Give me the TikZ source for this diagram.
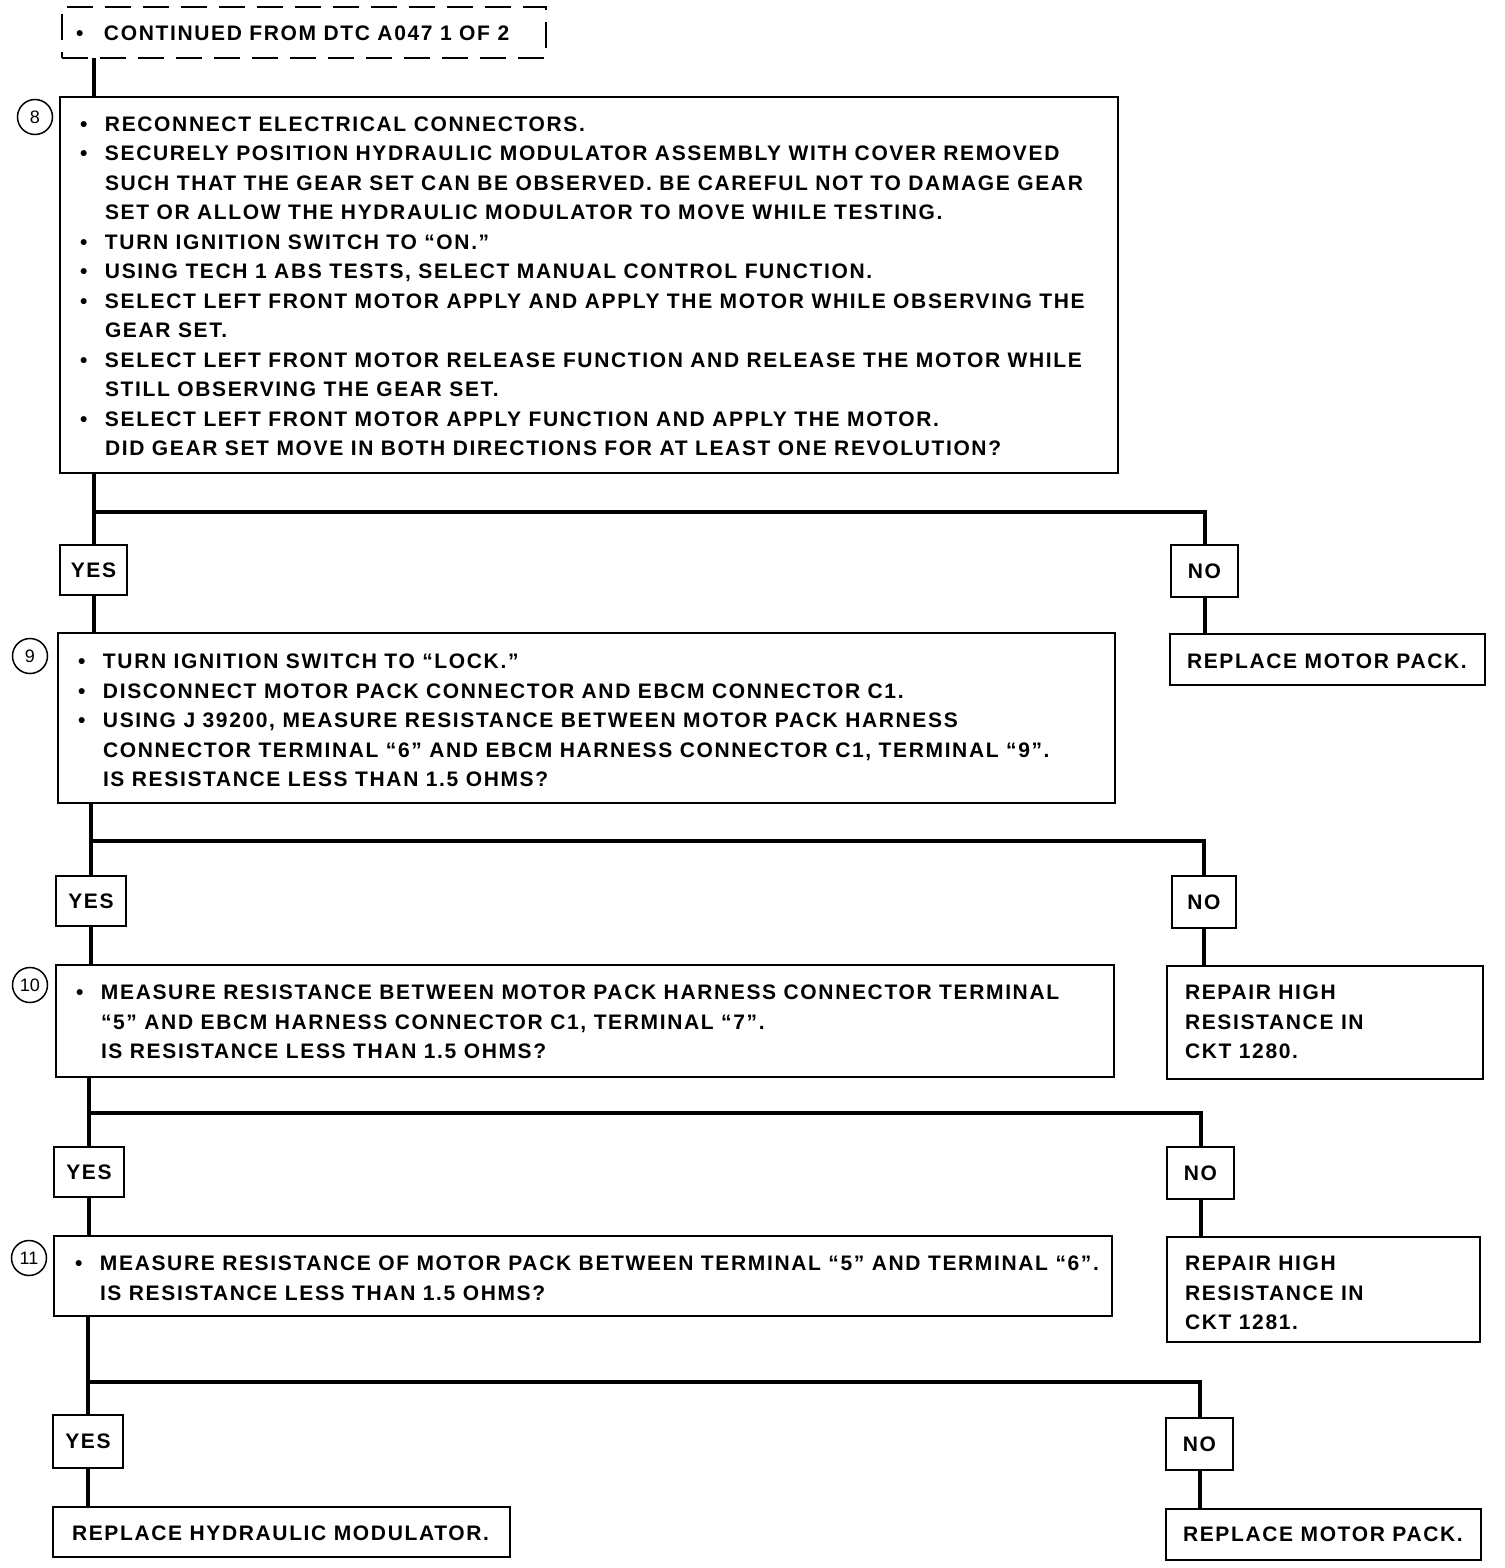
\documentclass[tikz,border=0pt]{standalone}
\usepackage{fontspec}
\setmainfont[LetterSpace=7.8]{Liberation Sans}
\newfontfamily\numfont{Liberation Sans}
\newcommand{\bulitem}{\makebox[25pt][l]{\textbullet}}
\newcommand{\contline}{\hspace*{25pt}}
\begin{document}
\begin{tikzpicture}[x=1pt,y=-1pt,
  box/.style={draw, line width=2pt, inner sep=0pt, outer sep=0pt, anchor=north west},
  txt/.style={anchor=base west, inner sep=0pt, outer sep=0pt, font=\fontsize{21}{29.5}\selectfont\bfseries},
  lbl/.style={draw, line width=2pt, inner sep=0pt, outer sep=0pt, font=\fontsize{21}{29.5}\selectfont\bfseries},
  conn/.style={line width=4pt},
  num/.style={draw, circle, line width=1.5pt, minimum size=35pt, inner sep=0pt, font=\numfont\fontsize{18}{18}\selectfont}]
\fill[white] (0,0) rectangle (1504,1568);
\useasboundingbox (0,0) rectangle (1504,1568);

% boxes
\node[box, dashed, dash pattern=on 26pt off 12pt, minimum width=484pt, minimum height=51pt] (top) at (62,7) {};
\node[box, minimum width=1058pt, minimum height=376pt] (b8) at (60,97) {};
\node[box, minimum width=1057pt, minimum height=170pt] (b9) at (58,633) {};
\node[box, minimum width=315pt, minimum height=51pt] (rmp1) at (1170,634) {};
\node[box, minimum width=1058pt, minimum height=112pt] (b10) at (56,965) {};
\node[box, minimum width=316pt, minimum height=113pt] (rh1) at (1167,966) {};
\node[box, minimum width=1058pt, minimum height=80pt] (b11) at (54,1236) {};
\node[box, minimum width=313pt, minimum height=105pt] (rh2) at (1167,1237) {};
\node[box, minimum width=457pt, minimum height=50pt] (rhm) at (53,1507) {};
\node[box, minimum width=315pt, minimum height=51pt] (rmp2) at (1166,1509) {};

% texts
\node[txt] (ttop) at (76,40.5) {\makebox[28pt][l]{\textbullet}CONTINUED FROM DTC A047 1 OF 2};
\node[txt] (t8) at (80,131.5) {\begin{tabular}[t]{@{}l@{}}
\bulitem RECONNECT ELECTRICAL CONNECTORS.\\
\bulitem SECURELY POSITION HYDRAULIC MODULATOR ASSEMBLY WITH COVER REMOVED\\
\contline SUCH THAT THE GEAR SET CAN BE OBSERVED. BE CAREFUL NOT TO DAMAGE GEAR\\
\contline SET OR ALLOW THE HYDRAULIC MODULATOR TO MOVE WHILE TESTING.\\
\bulitem TURN IGNITION SWITCH TO ``ON.''\\
\bulitem USING TECH 1 ABS TESTS, SELECT MANUAL CONTROL FUNCTION.\\
\bulitem SELECT LEFT FRONT MOTOR APPLY AND APPLY THE MOTOR WHILE OBSERVING THE\\
\contline GEAR SET.\\
\bulitem SELECT LEFT FRONT MOTOR RELEASE FUNCTION AND RELEASE THE MOTOR WHILE\\
\contline STILL OBSERVING THE GEAR SET.\\
\bulitem SELECT LEFT FRONT MOTOR APPLY FUNCTION AND APPLY THE MOTOR.\\
\contline DID GEAR SET MOVE IN BOTH DIRECTIONS FOR AT LEAST ONE REVOLUTION?
\end{tabular}};
\node[txt] (t9) at (78,668.5) {\begin{tabular}[t]{@{}l@{}}
\bulitem TURN IGNITION SWITCH TO ``LOCK.''\\
\bulitem DISCONNECT MOTOR PACK CONNECTOR AND EBCM CONNECTOR C1.\\
\bulitem USING J 39200, MEASURE RESISTANCE BETWEEN MOTOR PACK HARNESS\\
\contline CONNECTOR TERMINAL ``6'' AND EBCM HARNESS CONNECTOR C1, TERMINAL ``9''.\\
\contline IS RESISTANCE LESS THAN 1.5 OHMS?
\end{tabular}};
\node[txt] (t10) at (76,999.5) {\begin{tabular}[t]{@{}l@{}}
\bulitem MEASURE RESISTANCE BETWEEN MOTOR PACK HARNESS CONNECTOR TERMINAL\\
\contline ``5'' AND EBCM HARNESS CONNECTOR C1, TERMINAL ``7''.\\
\contline IS RESISTANCE LESS THAN 1.5 OHMS?
\end{tabular}};
\node[txt] (t11) at (75,1270.5) {\begin{tabular}[t]{@{}l@{}}
\bulitem MEASURE RESISTANCE OF MOTOR PACK BETWEEN TERMINAL ``5'' AND TERMINAL ``6''.\\
\contline IS RESISTANCE LESS THAN 1.5 OHMS?
\end{tabular}};
\node[txt] (trmp1) at (1187,668.5) {REPLACE MOTOR PACK.};
\node[txt] (trh1) at (1185,999.5) {\begin{tabular}[t]{@{}l@{}}REPAIR HIGH\\RESISTANCE IN\\CKT 1280.\end{tabular}};
\node[txt] (trh2) at (1185,1270.5) {\begin{tabular}[t]{@{}l@{}}REPAIR HIGH\\RESISTANCE IN\\CKT 1281.\end{tabular}};
\node[txt] (trhm) at (72,1540.5) {REPLACE HYDRAULIC MODULATOR.};
\node[txt] (trmp2) at (1183,1541.5) {REPLACE MOTOR PACK.};

% step numbers
\node[num] (n8) at (35,117) {8};
\node[num] (n9) at (30,656) {9};
\node[num] (n10) at (30,985) {10};
\node[num] (n11) at (29,1258) {11};

% yes / no labels
\node[lbl, minimum width=67pt, minimum height=50pt] (yes1) at (93.5,570) {YES};
\node[lbl, minimum width=67pt, minimum height=52pt] (no1) at (1204.5,571) {NO};
\node[lbl, minimum width=70pt, minimum height=50pt] (yes2) at (91,901) {YES};
\node[lbl, minimum width=64pt, minimum height=52pt] (no2) at (1204,902) {NO};
\node[lbl, minimum width=70pt, minimum height=50pt] (yes3) at (89,1172) {YES};
\node[lbl, minimum width=67pt, minimum height=52pt] (no3) at (1200.5,1173) {NO};
\node[lbl, minimum width=70pt, minimum height=53pt] (yes4) at (88,1441.5) {YES};
\node[lbl, minimum width=67pt, minimum height=52pt] (no4) at (1199.5,1444) {NO};

% junctions
\coordinate (j1) at (93.5,512);
\coordinate (j2) at (91,841);
\coordinate (j3) at (89,1113);
\coordinate (j4) at (88,1382);

% connectors
\draw[conn] (top.south -| yes1) -- (b8.north -| yes1);
\draw[conn] (b8.south -| yes1) -- (yes1.north);
\draw[conn] (j1) -| (no1.north);
\draw[conn] (yes1.south) -- (b9.north -| yes1);
\draw[conn] (no1.south) -- (rmp1.north -| no1);

\draw[conn] (b9.south -| yes2) -- (yes2.north);
\draw[conn] (j2) -| (no2.north);
\draw[conn] (yes2.south) -- (b10.north -| yes2);
\draw[conn] (no2.south) -- (rh1.north -| no2);

\draw[conn] (b10.south -| yes3) -- (yes3.north);
\draw[conn] (j3) -| (no3.north);
\draw[conn] (yes3.south) -- (b11.north -| yes3);
\draw[conn] (no3.south) -- (rh2.north -| no3);

\draw[conn] (b11.south -| yes4) -- (yes4.north);
\draw[conn] (j4) -| (no4.north);
\draw[conn] (yes4.south) -- (rhm.north -| yes4);
\draw[conn] (no4.south) -- (rmp2.north -| no4);
\end{tikzpicture}
\end{document}
